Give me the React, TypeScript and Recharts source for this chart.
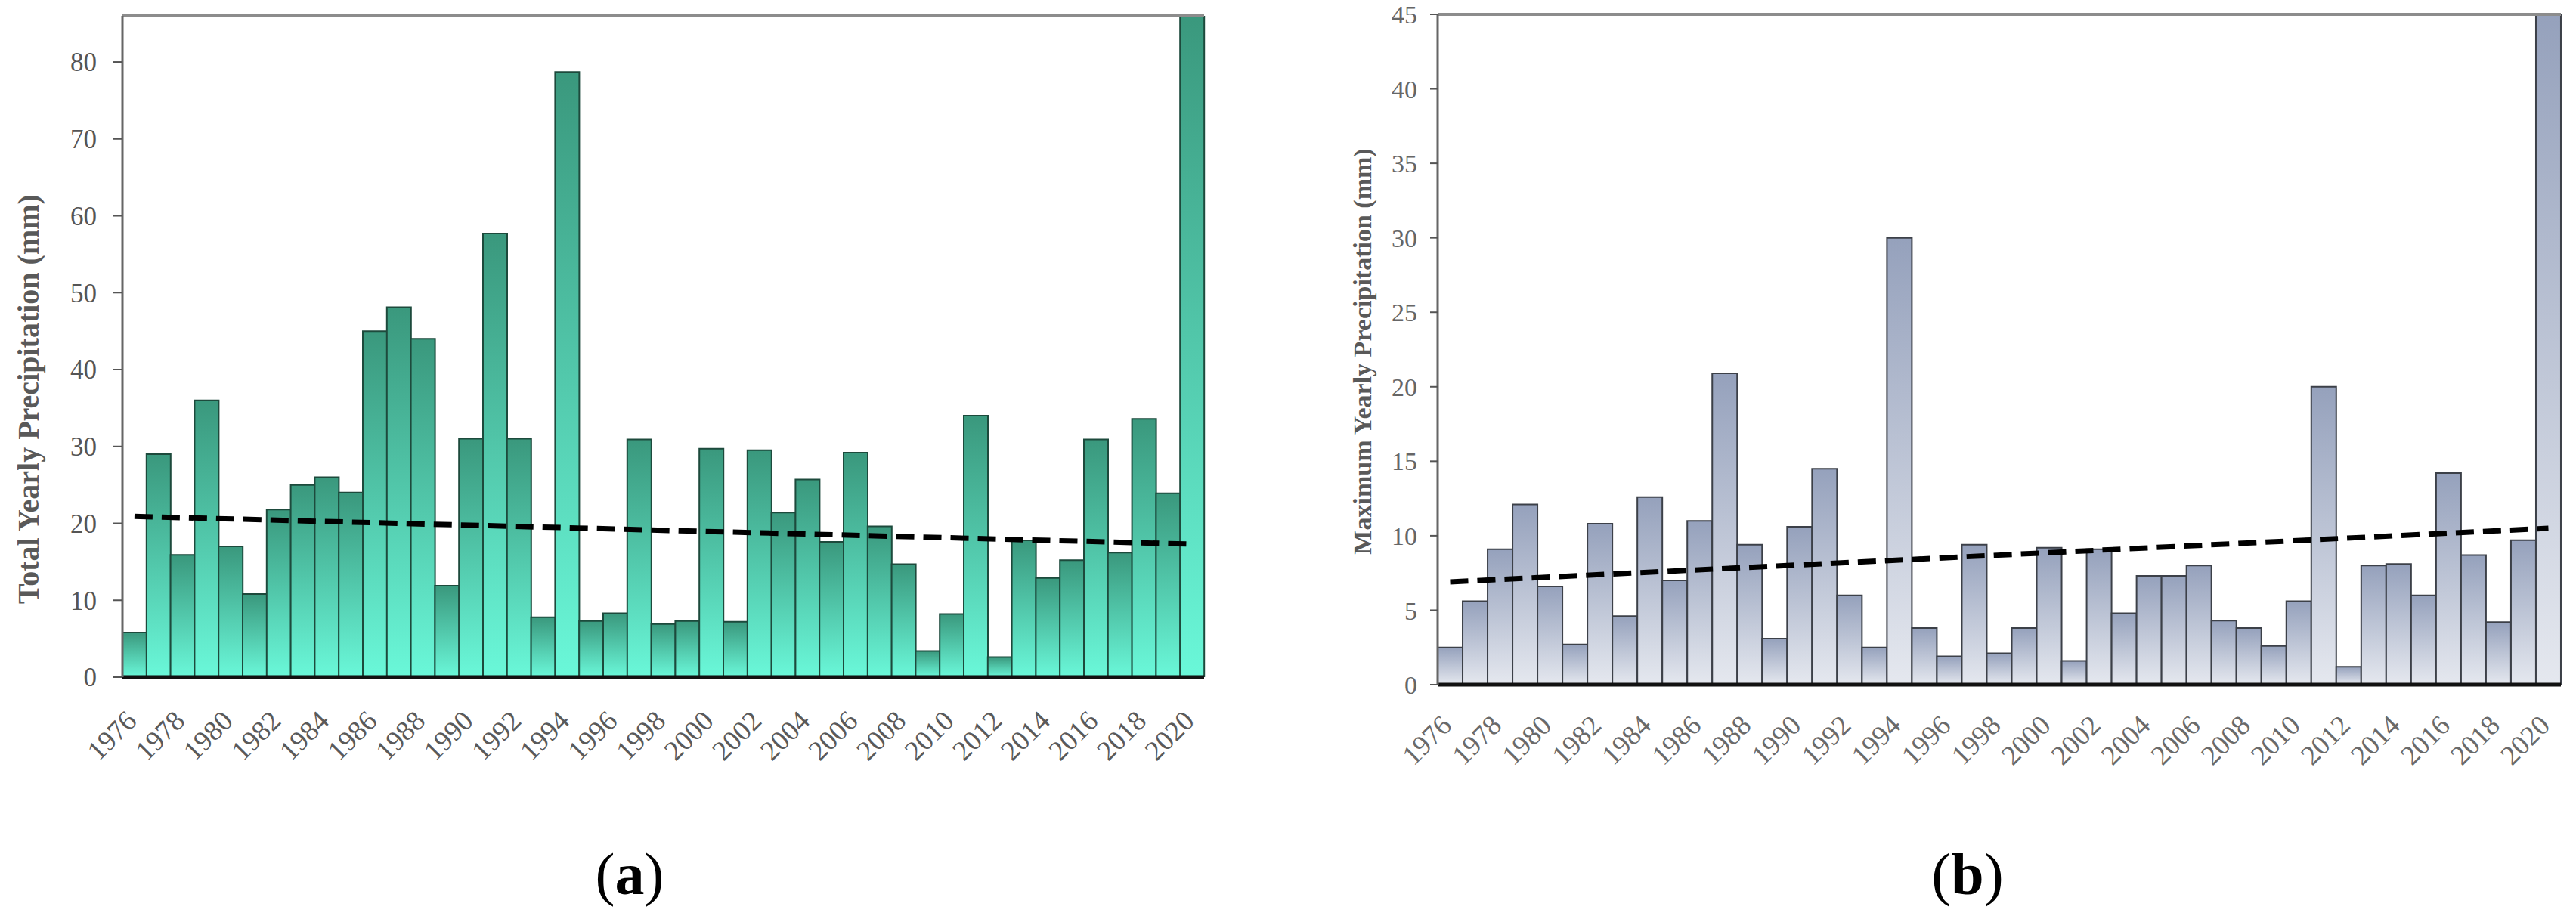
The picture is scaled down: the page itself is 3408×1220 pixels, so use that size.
import React from 'react';
import { BarChart, Bar, XAxis, YAxis, ReferenceLine } from 'recharts';

const years = [
  '1976', '1977', '1978', '1979', '1980', '1981', '1982', '1983', '1984', '1985',
  '1986', '1987', '1988', '1989', '1990', '1991', '1992', '1993', '1994', '1995',
  '1996', '1997', '1998', '1999', '2000', '2001', '2002', '2003', '2004', '2005',
  '2006', '2007', '2008', '2009', '2010', '2011', '2012', '2013', '2014', '2015',
  '2016', '2017', '2018', '2019', '2020',
];

// (a) total yearly precipitation, mm
const totalPrecip = [
  5.8, 29.0, 15.9, 36.0, 17.0, 10.8, 21.8, 25.0, 26.0, 24.0,
  45.0, 48.1, 44.0, 11.9, 31.0, 57.7, 31.0, 7.8, 78.7, 7.3,
  8.3, 30.9, 6.9, 7.3, 29.7, 7.2, 29.5, 21.4, 25.7, 17.6,
  29.2, 19.6, 14.7, 3.4, 8.2, 34.0, 2.6, 17.8, 12.9, 15.2,
  30.9, 16.2, 33.6, 23.9, 86.0,
];

// (b) maximum yearly precipitation, mm
const maxPrecip = [
  2.5, 5.6, 9.1, 12.1, 6.6, 2.7, 10.8, 4.6, 12.6, 7.0,
  11.0, 20.9, 9.4, 3.1, 10.6, 14.5, 6.0, 2.5, 30.0, 3.8,
  1.9, 9.4, 2.1, 3.8, 9.2, 1.6, 9.1, 4.8, 7.3, 7.3,
  8.0, 4.3, 3.8, 2.6, 5.6, 20.0, 1.2, 8.0, 8.1, 6.0,
  14.2, 8.7, 4.2, 9.7, 45.0,
];

// trend line end values (first year, last year)
const totalTrend = [20.9, 17.3];
const maxTrend = [6.9, 10.5];

const totalTicks = [0, 10, 20, 30, 40, 50, 60, 70, 80];
const maxTicks = [0, 5, 10, 15, 20, 25, 30, 35, 40, 45];

const data = years.map((year, i) => ({ year, total: totalPrecip[i], max: maxPrecip[i] }));

const serif = '"Liberation Serif", "Times New Roman", serif';

function YearTick(props: any) {
  const { x, y, payload, fill, dxOff, dyOff } = props;
  const ax = x + dxOff;
  const ay = y + dyOff;
  return (
    <text
      x={ax}
      y={ay}
      transform={`rotate(-45 ${ax} ${ay})`}
      textAnchor="end"
      fill={fill}
      fontSize={37}
      fontFamily={serif}
    >
      {payload.value}
    </text>
  );
}

function axisTitle(text: string, cx: number, cy: number, size: number) {
  return () => (
    <text
      x={cx}
      y={cy}
      transform={`rotate(-90 ${cx} ${cy})`}
      textAnchor="middle"
      dominantBaseline="central"
      fill="#595959"
      fontSize={size}
      fontWeight="bold"
      fontFamily={serif}
    >
      {text}
    </text>
  );
}

export default function App() {
  return (
    <div style={{ position: 'absolute', left: 0, top: 0, width: 3408, height: 1220, background: '#fff' }}>
      <div style={{ position: 'absolute', left: 0, top: 0 }}>
        <BarChart
          width={1600}
          height={1100}
          data={data}
          margin={{ top: 21, right: 7, left: 0, bottom: 54 }}
          barCategoryGap={0}
        >
          <defs>
            <linearGradient id="gradA" x1="0" y1="0" x2="0" y2="1">
              <stop offset="0%" stopColor="#3a987d" />
              <stop offset="100%" stopColor="#6af8d9" />
            </linearGradient>
          </defs>
          <XAxis
            dataKey="year"
            interval={1}
            height={150}
            tickLine={false}
            axisLine={{ stroke: '#111', strokeWidth: 5 }}
            tick={<YearTick fill="#5a5a5a" dxOff={5} dyOff={52} />}
          />
          <YAxis
            width={162}
            domain={[0, 86]}
            ticks={totalTicks}
            allowDataOverflow
            tickSize={12}
            tickMargin={22}
            axisLine={{ stroke: '#666', strokeWidth: 3 }}
            tickLine={{ stroke: '#555', strokeWidth: 2 }}
            tick={{ fill: '#555', fontSize: 35, fontFamily: serif }}
            label={{ content: axisTitle('Total Yearly Precipitation (mm)', 37, 528, 40) }}
          />
          <ReferenceLine y={86} stroke="#8c8c8c" strokeWidth={4} />
          <Bar dataKey="total" fill="url(#gradA)" stroke="#1d4a3c" strokeWidth={2} isAnimationActive={false} />
          <ReferenceLine
            segment={[
              { x: years[0], y: totalTrend[0] },
              { x: years[years.length - 1], y: totalTrend[1] },
            ]}
            stroke="#000"
            strokeWidth={7}
            strokeDasharray="24 12"
          />
        </BarChart>
      </div>

      <div style={{ position: 'absolute', left: 1700, top: 0 }}>
        <BarChart
          width={1700}
          height={1100}
          data={data}
          margin={{ top: 19, right: 12, left: 0, bottom: 44 }}
          barCategoryGap={0}
        >
          <defs>
            <linearGradient id="gradB" x1="0" y1="0" x2="0" y2="1">
              <stop offset="0%" stopColor="#95a1bc" />
              <stop offset="100%" stopColor="#e5e8ef" />
            </linearGradient>
          </defs>
          <XAxis
            dataKey="year"
            interval={1}
            height={150}
            tickLine={false}
            axisLine={{ stroke: '#111', strokeWidth: 5 }}
            tick={<YearTick fill="#6a6a6a" dxOff={4} dyOff={48} />}
          />
          <YAxis
            width={202}
            domain={[0, 45]}
            ticks={maxTicks}
            tickSize={10}
            tickMargin={17}
            axisLine={{ stroke: '#666', strokeWidth: 3 }}
            tickLine={{ stroke: '#555', strokeWidth: 2 }}
            tick={{ fill: '#666', fontSize: 34, fontFamily: serif }}
            label={{ content: axisTitle('Maximum Yearly Precipitation (mm)', 102, 465, 34) }}
          />
          <ReferenceLine y={45} stroke="#8c8c8c" strokeWidth={4} />
          <Bar dataKey="max" fill="url(#gradB)" stroke="#3c4048" strokeWidth={2} isAnimationActive={false} />
          <ReferenceLine
            segment={[
              { x: years[0], y: maxTrend[0] },
              { x: years[years.length - 1], y: maxTrend[1] },
            ]}
            stroke="#000"
            strokeWidth={7}
            strokeDasharray="24 12"
          />
        </BarChart>
      </div>

      <svg style={{ position: 'absolute', left: 0, top: 0 }} width={3408} height={1220}>
        <text x={833} y={1183} textAnchor="middle" fontSize={78} fontFamily={serif} fill="#000">
          (<tspan fontWeight="bold">a</tspan>)
        </text>
        <text x={2603} y={1183} textAnchor="middle" fontSize={78} fontFamily={serif} fill="#000">
          (<tspan fontWeight="bold">b</tspan>)
        </text>
      </svg>
    </div>
  );
}
